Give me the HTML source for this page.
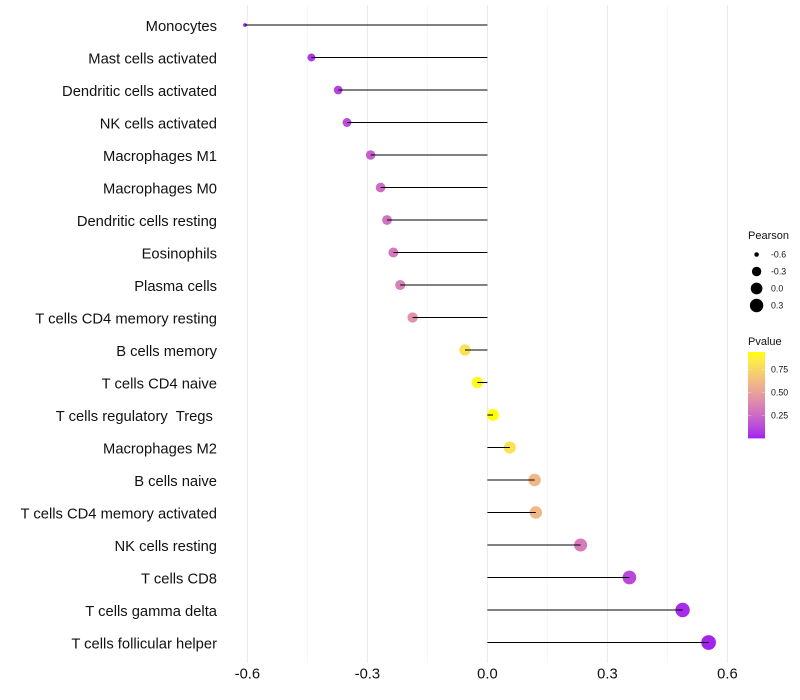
<!DOCTYPE html>
<html>
<head>
<meta charset="utf-8">
<title>Pearson lollipop chart</title>
<style>
html,body{margin:0;padding:0;background:#fff;}
svg{display:block;font-family:"Liberation Sans",sans-serif;}
text{white-space:pre;}
</style>
</head>
<body>
<svg id="chart" xmlns="http://www.w3.org/2000/svg" width="800" height="700" viewBox="0 0 800 700">
  <rect x="0" y="0" width="800" height="700" fill="#ffffff"/>
  <defs>
    <linearGradient id="pvalue-gradient" x1="0" y1="1" x2="0" y2="0"></linearGradient>
  </defs>
  <g id="grid"></g>
  <g id="marks"></g>
  <g id="yaxis"></g>
  <g id="xaxis"></g>
  <g id="size-legend"></g>
  <g id="color-legend"></g>
</svg>
<script>
const categories = ["Monocytes","Mast cells activated","Dendritic cells activated","NK cells activated","Macrophages M1","Macrophages M0","Dendritic cells resting","Eosinophils","Plasma cells","T cells CD4 memory resting","B cells memory","T cells CD4 naive","T cells regulatory  Tregs ","Macrophages M2","B cells naive","T cells CD4 memory activated","NK cells resting","T cells CD8","T cells gamma delta","T cells follicular helper"];
const pearson = [-0.606,-0.44,-0.373,-0.351,-0.292,-0.267,-0.251,-0.235,-0.218,-0.187,-0.056,-0.025,0.014,0.056,0.118,0.121,0.233,0.355,0.488,0.553];
const pvalue = [0.0,0.06,0.10,0.13,0.21,0.26,0.29,0.31,0.35,0.43,0.80,0.91,0.94,0.80,0.60,0.60,0.33,0.12,0.03,0.01];
const xMajorTicks = [-0.6,-0.3,0,0.3,0.6];
const xMinorTicks = [-0.45,-0.15,0.15,0.45];
const xTickLabels = ["-0.6","-0.3","0.0","0.3","0.6"];
const sizeLegendValues = [-0.6,-0.3,0,0.3];
const sizeLegendLabels = ["-0.6","-0.3","0.0","0.3"];
const colorLegendValues = [0.25,0.5,0.75];
const colorLegendLabels = ["0.25","0.50","0.75"];

const NS = "http://www.w3.org/2000/svg";
function make(parent, tag, attrs, text) {
  const el = document.createElementNS(NS, tag);
  for (const k in attrs) el.setAttribute(k, attrs[k]);
  if (text !== undefined) el.textContent = text;
  parent.appendChild(el);
  return el;
}

/* axis functions */
const xScale = v => 487.4 + v * 400;
const yScale = i => 25 + i * 32.5;
const pearsonMin = Math.min(...pearson), pearsonMax = Math.max(...pearson);
const diameter = v => {
  const t = Math.max(0, (v - pearsonMin) / (pearsonMax - pearsonMin));
  return 3.8 + 10.9 * Math.sqrt(t);
};
const pvalueMax = 0.94;

/* Lab-space purple to yellow gradient */
const labLow = [45.36, 78.75, -77.4];
const labHigh = [97.14, -21.55, 94.48];
function pColor(p) {
  const t = Math.min(1, Math.max(0, p / pvalueMax));
  const L = labLow[0] + (labHigh[0] - labLow[0]) * t;
  const a = labLow[1] + (labHigh[1] - labLow[1]) * t;
  const b = labLow[2] + (labHigh[2] - labLow[2]) * t;
  const fy = (L + 16) / 116, fx = fy + a / 500, fz = fy - b / 200;
  const inv = f => f > 0.20689 ? f * f * f : (f - 16 / 116) / 7.787;
  const X = 0.95047 * inv(fx), Y = inv(fy), Z = 1.08883 * inv(fz);
  const lin = [3.2406 * X - 1.5372 * Y - 0.4986 * Z, -0.9689 * X + 1.8758 * Y + 0.0415 * Z, 0.0557 * X - 0.2040 * Y + 1.0570 * Z];
  const c = lin.map(u => {
    u = Math.min(1, Math.max(0, u));
    const s = u <= 0.0031308 ? 12.92 * u : 1.055 * Math.pow(u, 1 / 2.4) - 0.055;
    return Math.round(s * 255);
  });
  return "rgb(" + c.join(",") + ")";
}

const gridG = document.getElementById("grid");
xMinorTicks.forEach(v => {
  const el = make(gridG, "line", {x1: xScale(v), x2: xScale(v), y1: 5, y2: 663, stroke: "#f0f0f0", "stroke-width": 0.55});
  
  
});
xMajorTicks.forEach(v => {
  const el = make(gridG, "line", {x1: xScale(v), x2: xScale(v), y1: 5, y2: 663, stroke: "#ebebeb", "stroke-width": 1.07});
  
  
});

const marksG = document.getElementById("marks");
categories.forEach((c, i) => {
  const dot = make(marksG, "circle", {cx: xScale(pearson[i]), cy: yScale(i), r: diameter(pearson[i]) / 2, fill: pColor(pvalue[i])});
  
  
});
categories.forEach((c, i) => {
  const stem = make(marksG, "line", {x1: xScale(0), x2: xScale(pearson[i]), y1: yScale(i), y2: yScale(i), stroke: "#000000", "stroke-width": 1.07});
  
  
});

const yG = document.getElementById("yaxis");
categories.forEach((c, i) => {
  const t = make(yG, "text", {x: 217, y: yScale(i) + 6, "text-anchor": "end", "font-size": 14.75, fill: "#111111"}, c);
  
  
});

const xG = document.getElementById("xaxis");
xMajorTicks.forEach((v, i) => {
  const t = make(xG, "text", {x: xScale(v), y: 678.7, "text-anchor": "middle", "font-size": 14.75, fill: "#111111"}, xTickLabels[i]);
  
  
});

const sizeG = document.getElementById("size-legend");
const sizeTitle = make(sizeG, "text", {x: 748, y: 239, "font-size": 11, fill: "#111111"}, "Pearson");


sizeLegendValues.forEach((v, i) => {
  const yy = 254.5 + i * 17;
  const d = make(sizeG, "circle", {cx: 756.6, cy: yy, r: diameter(v) / 2, fill: "#000000"});
  
  
  const t = make(sizeG, "text", {x: 771, y: yy + 3.2, "font-size": 8.8, fill: "#111111"}, sizeLegendLabels[i]);
  
  
});

const colorG = document.getElementById("color-legend");
const colorTitle = make(colorG, "text", {x: 748, y: 345, "font-size": 11, fill: "#111111"}, "Pvalue");


const grad = document.getElementById("pvalue-gradient");
for (let s = 0; s <= 20; s++) {
  make(grad, "stop", {offset: (s * 5) + "%", "stop-color": pColor(pvalueMax * s / 20)});
}
const barTop = 352, barBottom = 438.4, barLeft = 748, barRight = 765;
const barY = p => barBottom - (p / pvalueMax) * (barBottom - barTop);
const bar = make(colorG, "rect", {x: barLeft, y: barTop, width: barRight - barLeft, height: barBottom - barTop, fill: "url(#pvalue-gradient)"});


colorLegendValues.forEach((v, i) => {
  const yy = barY(v);
  const l = make(colorG, "line", {x1: barLeft, x2: barLeft + 3.4, y1: yy, y2: yy, stroke: "#ffffff", "stroke-width": 0.4, "stroke-opacity": 0.7});
  
  
  const r = make(colorG, "line", {x1: barRight - 3.4, x2: barRight, y1: yy, y2: yy, stroke: "#ffffff", "stroke-width": 0.4, "stroke-opacity": 0.7});
  
  
  const t = make(colorG, "text", {x: 771, y: yy + 3.2, "font-size": 8.8, fill: "#111111"}, colorLegendLabels[i]);
  
  
});
</script>
</body>
</html>
